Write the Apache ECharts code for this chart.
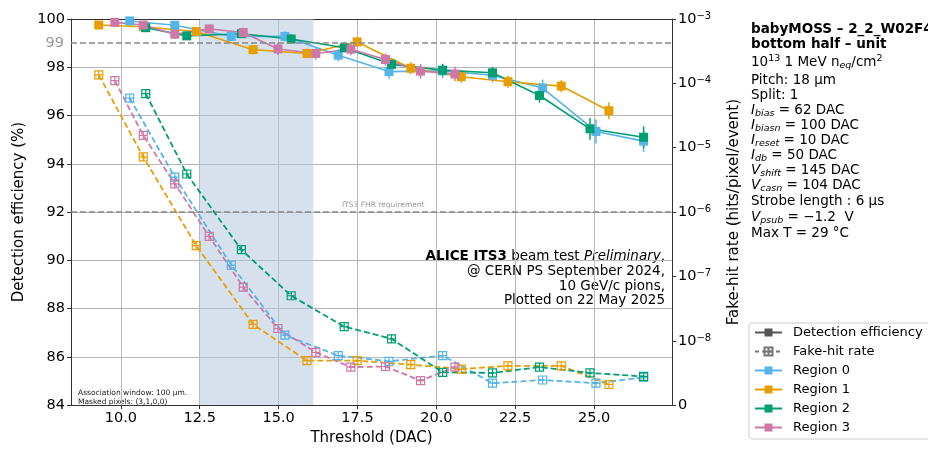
<!DOCTYPE html>
<html>
<head>
<meta charset="utf-8">
<style>
  html, body { margin: 0; padding: 0; background: #fff; }
  #chart { width: 928px; height: 451px; }
</style>
</head>
<body>
<div id="chart"></div>
<script src="https://cdn.jsdelivr.net/npm/echarts@6/dist/echarts.min.js"></script>
<script>
// Region 0
var r0x   = [10.28, 11.71, 13.50, 15.20, 16.89, 18.50, 20.20, 21.78, 23.37, 25.06, 26.57];
var r0eff = [99.92, 99.74, 99.28, 99.28, 98.50, 97.82, 97.85, 97.67, 97.14, 95.34, 94.94];
var r0err = [0.10, 0.15, 0.20, 0.20, 0.25, 0.30, 0.30, 0.30, 0.35, 0.50, 0.45];
var r0fhr = [5.9e-5, 3.5e-6, 1.5e-7, 1.22e-8, 7.7e-9, 6.8e-9, 7.7e-9, 3.4e-9, 3.9e-9, 3.4e-9, 4.3e-9];
// Region 1
var r1x   = [9.30, 10.71, 12.39, 14.19, 15.90, 17.49, 19.19, 20.79, 22.27, 23.96, 25.47];
var r1eff = [99.75, 99.68, 99.48, 98.73, 98.57, 99.05, 97.96, 97.61, 97.40, 97.22, 96.20];
var r1err = [0.10, 0.10, 0.15, 0.20, 0.20, 0.20, 0.25, 0.25, 0.25, 0.25, 0.35];
var r1fhr = [1.35e-4, 7.2e-6, 3.0e-7, 1.8e-8, 6.9e-9, 6.9e-9, 6.3e-9, 5.6e-9, 6.1e-9, 6.1e-9, 3.2e-9];
// Region 2
var r2x   = [10.79, 12.09, 13.82, 15.40, 17.08, 18.58, 20.20, 21.78, 23.27, 24.87, 26.57];
var r2eff = [99.64, 99.30, 99.39, 99.17, 98.81, 98.12, 97.88, 97.77, 96.83, 95.45, 95.10];
var r2err = [0.10, 0.15, 0.15, 0.20, 0.20, 0.25, 0.25, 0.25, 0.30, 0.45, 0.45];
var r2fhr = [6.9e-5, 3.9e-6, 2.6e-7, 5.0e-8, 1.66e-8, 1.07e-8, 5.1e-9, 5.0e-9, 5.9e-9, 5.0e-9, 4.45e-9];
// Region 3
var r3x   = [9.81, 10.71, 11.71, 12.80, 13.88, 14.98, 16.18, 17.29, 18.39, 19.50, 20.59];
var r3eff = [99.86, 99.75, 99.37, 99.59, 99.44, 98.76, 98.57, 98.75, 98.32, 97.84, 97.72];
var r3err = [0.10, 0.15, 0.20, 0.15, 0.20, 0.25, 0.25, 0.25, 0.25, 0.30, 0.30];
var r3fhr = [1.1e-4, 1.55e-5, 2.75e-6, 4.2e-7, 6.8e-8, 1.55e-8, 8.2e-9, 5.9e-9, 6.0e-9, 3.8e-9, 5.9e-9];

var xTicks = [10, 12.5, 15, 17.5, 20, 22.5, 25];
var shadeRange = [12.5, 16.1];

var regions = [
  {name: 'Region 0', color: '#56B4E9', x: r0x, eff: r0eff, err: r0err, fhr: r0fhr},
  {name: 'Region 1', color: '#E69F00', x: r1x, eff: r1eff, err: r1err, fhr: r1fhr},
  {name: 'Region 2', color: '#009E73', x: r2x, eff: r2eff, err: r2err, fhr: r2fhr},
  {name: 'Region 3', color: '#CC79A7', x: r3x, eff: r3eff, err: r3err, fhr: r3fhr}
];

// symlog-like position: linear below 1e-8, one unit per decade above
function fhrPos(v) {
  return v < 1e-8 ? v / 1e-8 : Math.log10(v) + 9;
}

var openSq = 'path://M0,0H10V10H0Z M5,0V10 M0,5H10';
var font = 'DejaVu Sans';

function errBar(color) {
  return function (params, api) {
    var x = api.value(0), y = api.value(1), e = api.value(2);
    var p1 = api.coord([x, y - e]);
    var p2 = api.coord([x, y + e]);
    return {
      type: 'line',
      shape: {x1: p1[0], y1: p1[1], x2: p2[0], y2: p2[1]},
      style: {stroke: color, lineWidth: 1.5}
    };
  };
}

var series = [];
regions.forEach(function (r, k) {
  var fhrData = r.x.map(function (x, i) { return [x, fhrPos(r.fhr[i])]; });
  var s = {
    name: r.name + ' FHR',
    type: 'line',
    yAxisIndex: 1,
    data: fhrData,
    symbol: openSq,
    symbolSize: 8,
    itemStyle: {color: 'rgba(255,255,255,0)', borderColor: r.color, borderWidth: 1.2},
    lineStyle: {color: r.color, width: 1.8, type: [6, 3]},
    z: 2
  };
  if (k === 0) {
    s.markArea = {
      silent: true,
      itemStyle: {color: 'rgba(176,196,222,0.5)'},
      data: [[{xAxis: shadeRange[0]}, {xAxis: shadeRange[1]}]]
    };
  }
  series.push(s);
});
regions.forEach(function (r) {
  series.push({
    name: r.name + ' err',
    type: 'custom',
    renderItem: errBar(r.color),
    encode: {x: 0, y: 1},
    data: r.x.map(function (x, i) { return [x, r.eff[i], r.err[i]]; }),
    z: 3
  });
});
regions.forEach(function (r, k) {
  var s = {
    name: r.name,
    type: 'line',
    data: r.x.map(function (x, i) { return [x, r.eff[i]]; }),
    symbol: 'rect',
    symbolSize: 9,
    itemStyle: {color: r.color},
    lineStyle: {color: r.color, width: 1.6},
    z: 4
  };
  if (k === 0) {
    s.markLine = {
      silent: true,
      symbol: 'none',
      lineStyle: {color: '#888', width: 1.5, type: [6, 3]},
      data: [
        {yAxis: 99, label: {show: true, position: 'start', formatter: '99', color: '#999',
          fontSize: 14.5, fontFamily: font, distance: 7}},
        {yAxis: 92, label: {show: false}}
      ]
    };
  }
  series.push(s);
});
series.push({
  name: 'Detection efficiency', type: 'line', data: [],
  symbol: 'rect', itemStyle: {color: '#555'}, lineStyle: {color: '#555', width: 1.5}
});
series.push({
  name: 'Fake-hit rate', type: 'line', data: [], yAxisIndex: 1,
  symbol: openSq, itemStyle: {color: 'rgba(255,255,255,0)', borderColor: '#777', borderWidth: 1.2},
  lineStyle: {color: '#777', width: 1.5, type: [4, 3]}
});

var sub = {fontFamily: font, fontSize: 9.5, fontStyle: 'italic', verticalAlign: 'bottom', lineHeight: 10};
var sup = {fontFamily: font, fontSize: 9.5, verticalAlign: 'top', lineHeight: 10};
var infoRich = {
  b: {fontFamily: font, fontSize: 13.5, fontWeight: 'bold', lineHeight: 17},
  i: {fontFamily: font, fontSize: 13.5, fontStyle: 'italic', lineHeight: 17},
  n: {fontFamily: font, fontSize: 13.5, lineHeight: 17},
  sub: sub, sup: sup
};
var infoLines = [
  ['{b|babyMOSS – 2_2_W02F4}', 29],
  ['{b|bottom half – unit}', 44],
  ['{n|10}{sup|13}{n| 1 MeV n}{sub|eq}{n|/cm}{sup|2}', 62],
  ['{n|Pitch: 18 µm}', 80],
  ['{n|Split: 1}', 95],
  ['{i|I}{sub|bias}{n| = 62 DAC}', 110],
  ['{i|I}{sub|biasn}{n| = 100 DAC}', 125],
  ['{i|I}{sub|reset}{n| = 10 DAC}', 140],
  ['{i|I}{sub|db}{n| = 50 DAC}', 155],
  ['{i|V}{sub|shift}{n| = 145 DAC}', 170],
  ['{i|V}{sub|casn}{n| = 104 DAC}', 185],
  ['{n|Strobe length : 6 µs}', 201],
  ['{i|V}{sub|psub}{n| = −1.2  V}', 217],
  ['{n|Max T = 29 °C}', 233]
];
var graphics = infoLines.map(function (l) {
  return {type: 'text', style: {x: 751, y: l[1], text: l[0], rich: infoRich,
    verticalAlign: 'middle', align: 'left', fill: '#000'}};
});
var alice = [
  ['{b|ALICE ITS3}{n| beam test }{i|Preliminary}{n|,}', 256],
  ['{n|@ CERN PS September 2024,}', 271],
  ['{n|10 GeV/c pions,}', 286],
  ['{n|Plotted on 22 May 2025}', 300]
];
alice.forEach(function (l) {
  graphics.push({type: 'text', style: {x: 665, y: l[1], text: l[0], rich: infoRich,
    verticalAlign: 'middle', align: 'right', fill: '#000'}});
});
graphics.push({type: 'text', style: {x: 342, y: 205, text: 'ITS3 FHR requirement',
  fontFamily: font, fontSize: 7.5, fill: '#999', verticalAlign: 'middle'}});
graphics.push({type: 'text', style: {x: 78, y: 393, text: 'Association window: 100 µm.',
  fontFamily: font, fontSize: 7.5, fill: '#222', verticalAlign: 'middle'}});
graphics.push({type: 'text', style: {x: 78, y: 402, text: 'Masked pixels: (3,1,0,0)',
  fontFamily: font, fontSize: 7.5, fill: '#222', verticalAlign: 'middle'}});

var chart = echarts.init(document.getElementById('chart'), null, {renderer: 'canvas'});
var axisCol = '#333';
chart.setOption({
  animation: false,
  textStyle: {fontFamily: font},
  grid: {left: 71, right: 256, top: 19, bottom: 41},
  legend: {
    orient: 'vertical', left: 749, top: 323,
    data: ['Detection efficiency', 'Fake-hit rate', 'Region 0', 'Region 1', 'Region 2', 'Region 3'],
    itemWidth: 27, itemHeight: 10, itemGap: 6,
    padding: [3, 10, 5, 5],
    borderColor: '#ccc', borderWidth: 1, borderRadius: 3, backgroundColor: '#fff',
    textStyle: {fontFamily: font, fontSize: 13, color: '#000', padding: [0, 0, 0, 6]}
  },
  xAxis: [{
    type: 'value', min: 8.42, max: 27.47,
    name: 'Threshold (DAC)', nameLocation: 'middle', nameGap: 24,
    nameTextStyle: {fontFamily: font, fontSize: 15, color: '#000'},
    axisLine: {show: true, lineStyle: {color: axisCol, width: 1}},
    axisTick: {show: true, inside: false, length: 4, customValues: xTicks, lineStyle: {color: axisCol}},
    axisLabel: {customValues: xTicks, formatter: function (v) { return v.toFixed(1); },
      fontFamily: font, fontSize: 14.5, color: '#000', margin: 6},
    splitLine: {show: true, lineStyle: {color: '#b8b8b8', width: 1}}
  }, {
    type: 'value', position: 'top', min: 8.42, max: 27.47,
    axisLine: {show: true, onZero: false, lineStyle: {color: axisCol, width: 1}},
    axisTick: {show: false}, axisLabel: {show: false}, splitLine: {show: false}
  }],
  yAxis: [{
    type: 'value', min: 84, max: 100, interval: 2,
    name: 'Detection efficiency (%)', nameLocation: 'middle', nameGap: 40,
    nameTextStyle: {fontFamily: font, fontSize: 15, color: '#000'},
    axisLine: {show: true, lineStyle: {color: axisCol, width: 1}},
    axisTick: {show: true, length: 4, lineStyle: {color: axisCol}},
    axisLabel: {fontFamily: font, fontSize: 14.5, color: '#000', margin: 6},
    splitLine: {show: true, lineStyle: {color: '#b8b8b8', width: 1}}
  }, {
    type: 'value', min: 0, max: 6, interval: 1, position: 'right',
    name: 'Fake-hit rate (hits/pixel/event)', nameLocation: 'middle', nameGap: 55, nameRotate: 90,
    nameTextStyle: {fontFamily: font, fontSize: 15, color: '#000'},
    axisLine: {show: true, lineStyle: {color: axisCol, width: 1}},
    axisTick: {show: true, length: 4, lineStyle: {color: axisCol}},
    axisLabel: {
      fontFamily: font, fontSize: 14.5, color: '#000', margin: 6,
      formatter: function (v) { return v === 0 ? '0' : '10{s|−' + (9 - v) + '}'; },
      rich: {s: {fontFamily: font, fontSize: 10, verticalAlign: 'top', lineHeight: 10}}
    },
    splitLine: {show: false}
  }],
  graphic: graphics,
  series: series
});
</script>
</body>
</html>
